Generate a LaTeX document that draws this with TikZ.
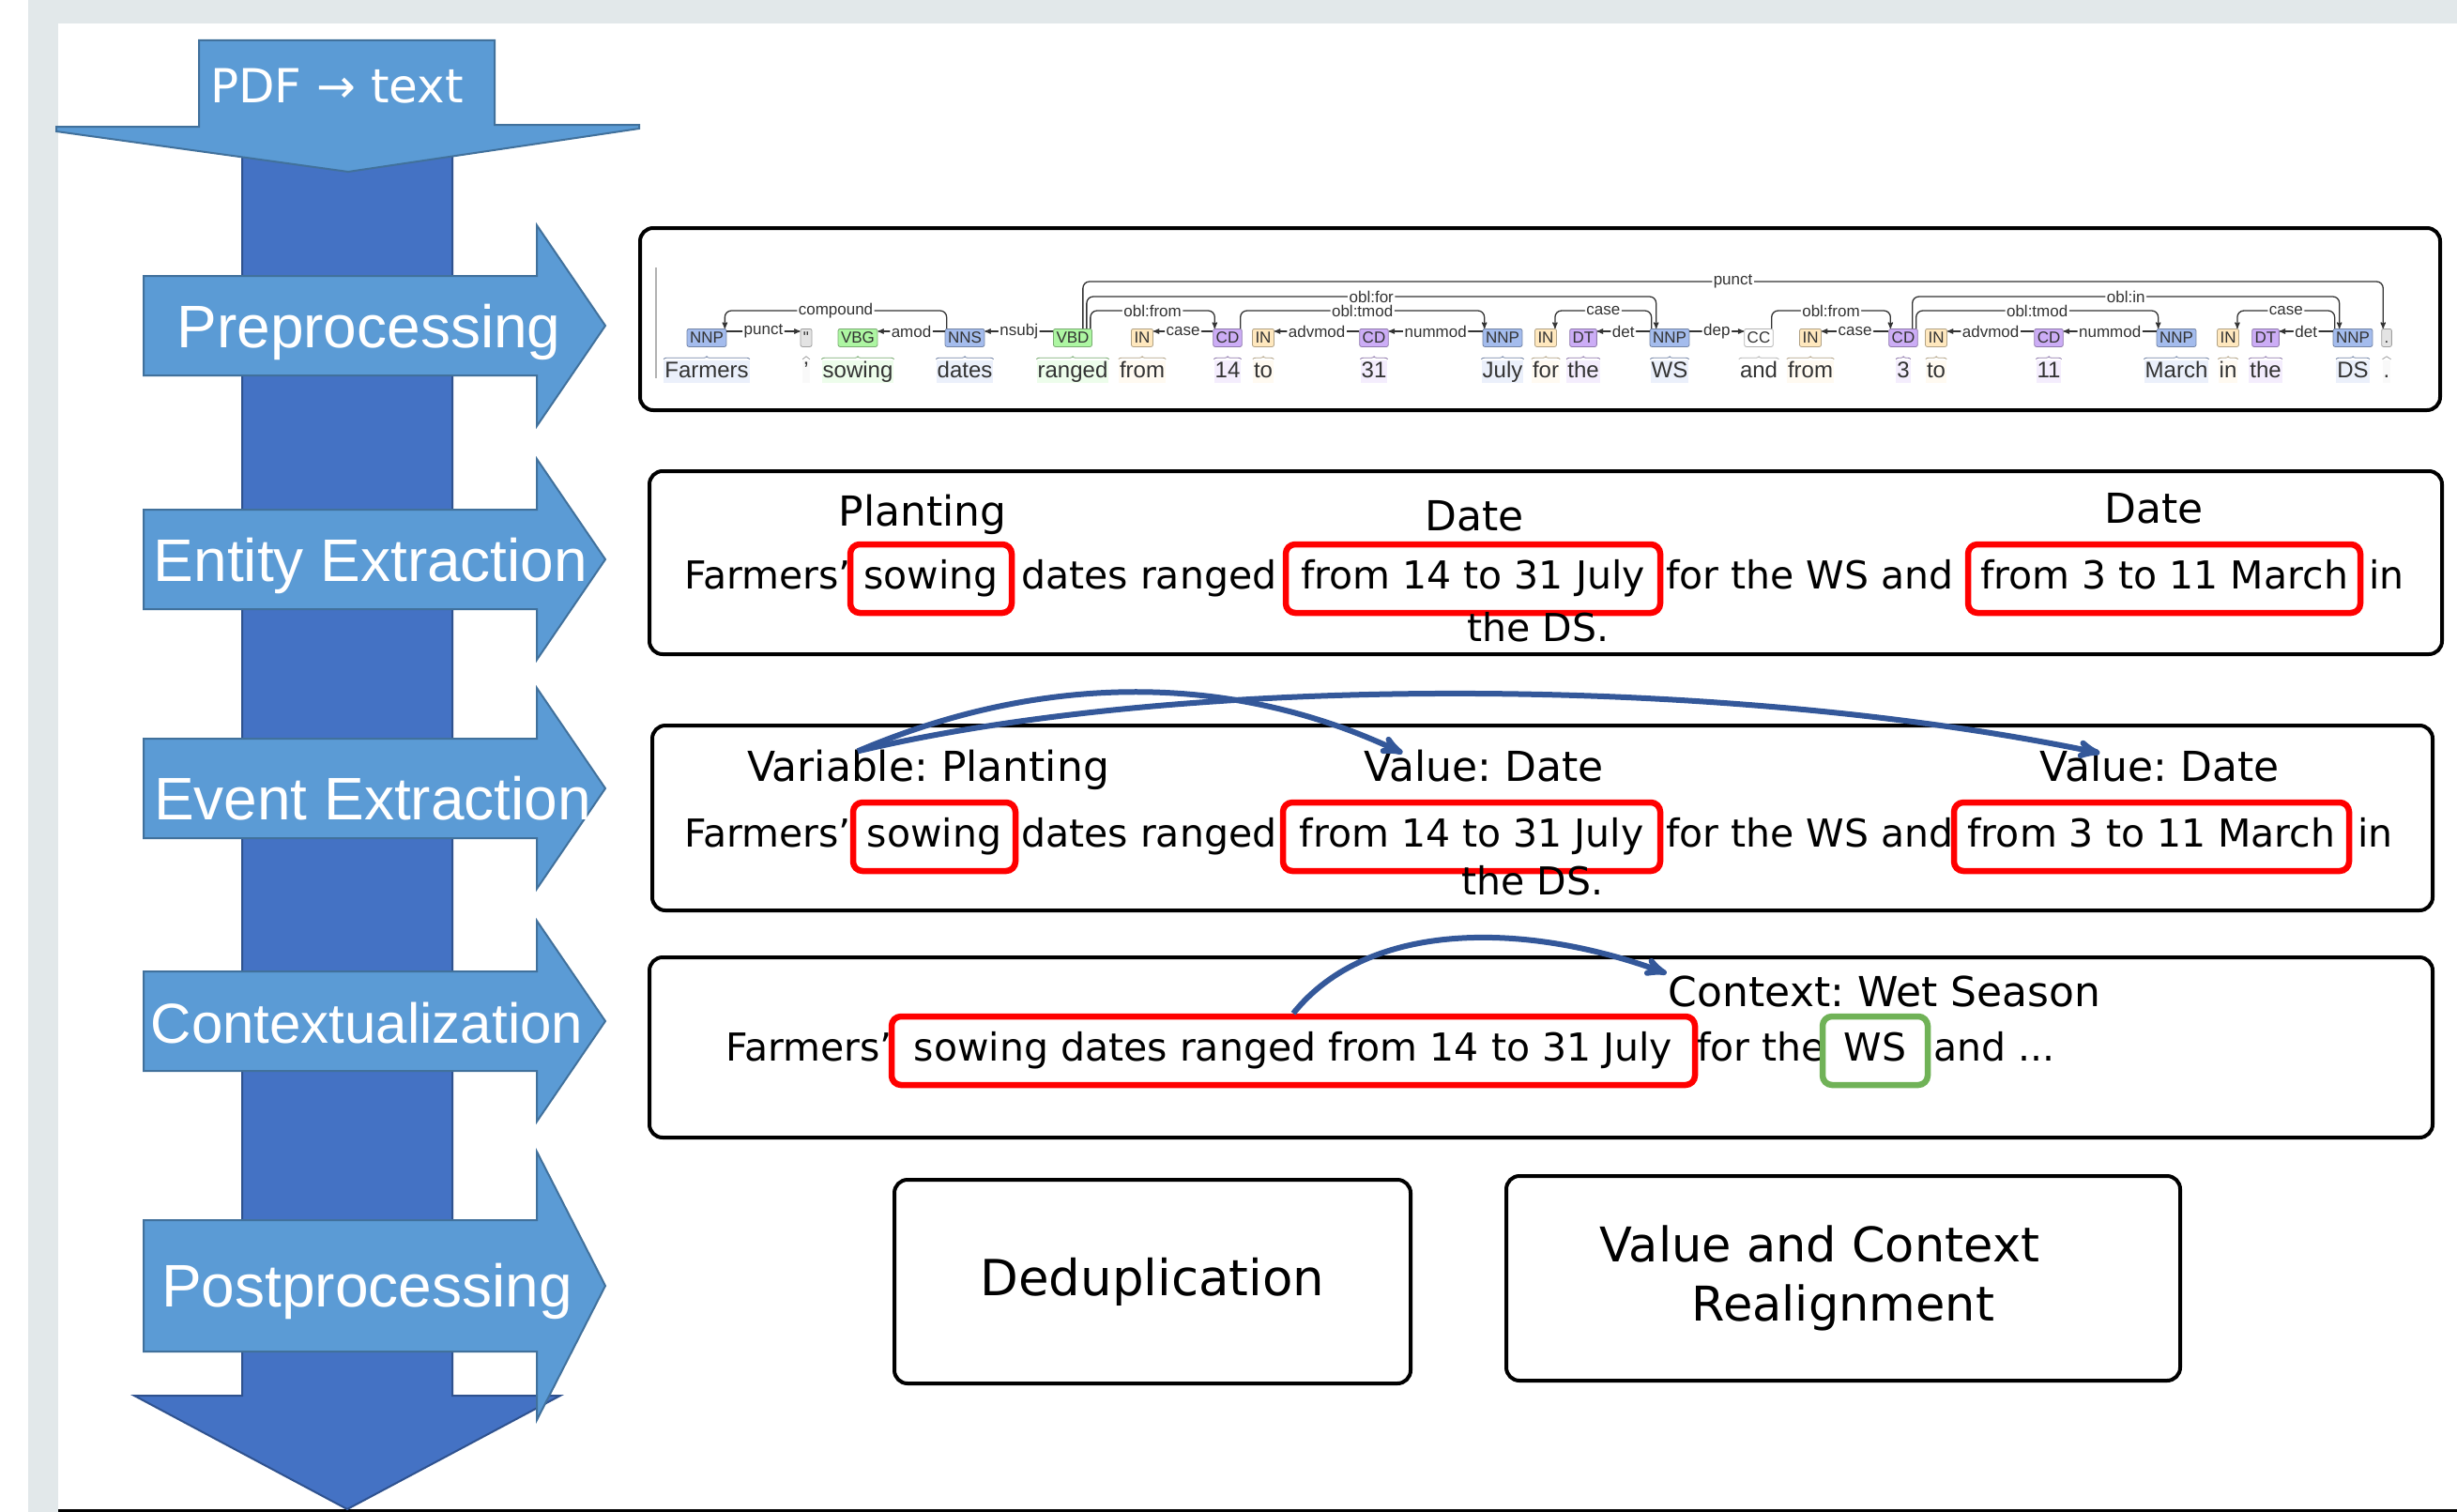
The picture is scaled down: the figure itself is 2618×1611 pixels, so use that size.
\documentclass[tikz,border=0pt]{standalone}
\usepackage{fontspec}
\setmainfont{DejaVu Sans}
\newfontfamily\arialfont{Liberation Sans}
\usetikzlibrary{positioning,arrows,decorations.pathreplacing}
\frenchspacing

\definecolor{lightarrow}{HTML}{5B9BD5}
\definecolor{lightedge}{HTML}{41719C}
\definecolor{darkarrow}{HTML}{4472C4}
\definecolor{darkedge}{HTML}{2F528F}
\definecolor{linkblue}{HTML}{34589A}
\definecolor{framegray}{HTML}{E2E8EA}
\definecolor{markred}{HTML}{FF0000}
\definecolor{markgreen}{HTML}{70B257}
\definecolor{inktext}{HTML}{333333}
\definecolor{nncol}{HTML}{A4BCED}
\definecolor{vbcol}{HTML}{ADF6A2}
\definecolor{incol}{HTML}{FFE8BE}
\definecolor{cdcol}{HTML}{CCADF6}
\definecolor{cccol}{HTML}{FFFFFF}
\definecolor{pucol}{HTML}{E3E3E3}

\tikzset{
>=stealth',
  bigarrow/.style={fill=darkarrow, draw=darkedge, line width=2pt},
  stagearrow/.style={fill=lightarrow, draw=lightedge, line width=2pt},
  stagelabel/.style={anchor=base, inner sep=0pt, text=white,
    font=\arialfont\fontsize{64}{70}\selectfont},
  panel/.style={draw=black, line width=4pt, rounded corners=14pt},
  sent/.style={anchor=base west, inner sep=0pt, font=\fontsize{41}{48}\selectfont},
  rolelabel/.style={anchor=base, inner sep=2pt, font=\fontsize{44}{50}\selectfont},
  redmark/.style={draw=markred, line width=6.5pt, rounded corners=10pt,
    anchor=base, inner xsep=0pt, inner ysep=17pt, text height=30pt,
    text depth=9pt, minimum width=#1, font=\fontsize{41}{48}\selectfont},
  greenmark/.style={redmark=#1, draw=markgreen},
  linkarrow/.style={draw=linkblue, line width=6pt, ->},
  % brat-like parse
  tok/.style={anchor=base, fill=#1!22, text=inktext, inner xsep=1pt,
    inner ysep=1pt, text height=17pt, text depth=5pt,
    font=\arialfont\fontsize{24}{28}\selectfont},
  postag/.style={fill=#1, draw=#1!70!black, line width=0.8pt,
    rounded corners=2pt, text=inktext, inner xsep=3pt, inner ysep=0pt,
    minimum height=19pt, text height=12pt, text depth=0pt,
    font=\arialfont\fontsize{17}{18}\selectfont},
  brc/.style={draw=#1!70!black, line width=0.8pt, decorate,
    decoration={brace, amplitude=3pt, raise=1pt}},
  deparc/.style={draw=inktext, line width=1.3pt, rounded corners=7pt, ->},
  rel/.style={fill=white, text=inktext, inner xsep=1.5pt, inner ysep=0pt,
    font=\arialfont\fontsize{17}{18}\selectfont},
}

\begin{document}
\begin{tikzpicture}[x=1pt, y=1pt]
  \useasboundingbox (0,0) rectangle (2618,-1611);
  \fill[white] (0,0) rectangle (2618,-1611);
  % screenshot frame
  \fill[framegray] (30,0) rectangle (2618,-25);
  \fill[framegray] (30,0) rectangle (62,-1611);
  \draw[line width=3pt] (62,-1609.5) -- (2618,-1609.5);

  % the long flow arrow and the input arrow on top of it
  \draw[bigarrow] (258,-130) -- (482,-130) -- (482,-1487) -- (597,-1487)
    -- (370,-1608) -- (143,-1487) -- (258,-1487) -- cycle;
  \draw[stagearrow] (212,-43) -- (527,-43) -- (527,-133) -- (681,-133)
    -- (681,-137) -- (371,-183) -- (60,-140) -- (60,-135) -- (212,-135) -- cycle;
  \node[stagelabel, font=\fontsize{50}{56}\selectfont] (pdf) at (359,-110) {PDF → text};

  %% stages
  \draw[stagearrow, shift={(0,-347)}] (153,53) -- (572,53) -- (572,107)
    -- (645,0) -- (572,-107) -- (572,-53) -- (153,-53) -- cycle;
  \draw[stagearrow, shift={(0,-596)}] (153,53) -- (572,53) -- (572,107)
    -- (645,0) -- (572,-107) -- (572,-53) -- (153,-53) -- cycle;
  \draw[stagearrow, shift={(0,-840)}] (153,53) -- (572,53) -- (572,107)
    -- (645,0) -- (572,-107) -- (572,-53) -- (153,-53) -- cycle;
  \draw[stagearrow, shift={(0,-1088)}] (153,53) -- (572,53) -- (572,107)
    -- (645,0) -- (572,-107) -- (572,-53) -- (153,-53) -- cycle;
  \draw[stagearrow, shift={(0,-1370)}] (153,70) -- (572,70) -- (572,143)
    -- (645,0) -- (572,-143) -- (572,-70) -- (153,-70) -- cycle;
  \node[stagelabel] (prep) at (393,-370) {Preprocessing};
  \node[stagelabel] (entity) at (395,-619) {Entity Extraction};
  \node[stagelabel] (event) at (397,-873) {Event Extraction};
  \node[stagelabel, font=\arialfont\fontsize{60}{66}\selectfont] (context) at (391,-1111) {Contextualization};
  \node[stagelabel] (post) at (391,-1392) {Postprocessing};

  % panels
  \node[panel, minimum width=1918pt, minimum height=194pt] (parsebox) at (1641,-340) {};
  \node[panel, minimum width=1910pt, minimum height=195pt] (entbox) at (1647,-599.5) {};
  \node[panel, minimum width=1897pt, minimum height=197pt] (evbox) at (1643.5,-871.5) {};
  \node[panel, minimum width=1900pt, minimum height=192pt] (ctxbox) at (1642,-1116) {};
  \node[panel, minimum width=550pt, minimum height=217pt,
    font=\fontsize{53}{60}\selectfont] (dedup) at (1228,-1365.5) {Deduplication};
  \node[panel, minimum width=718pt, minimum height=218pt, align=center,
    font=\fontsize{51}{63}\selectfont] (realign) at (1964,-1362) {Value and Context\hspace*{50pt}\\Realignment};

  % dependency parse
  \draw[black!30, line width=1.5pt] (699,-285) -- (699,-403);
  \node[tok=nncol] (wFarmers) at (753,-402) {Farmers};
  \node[postag=nncol, above=14pt of wFarmers] (pFarmers) {NNP};
  \draw[brc=nncol] (wFarmers.north west) -- (wFarmers.north east);
  \node[tok=pucol] (wQuote) at (859,-402) {’};
  \node[postag=pucol, above=14pt of wQuote] (pQuote) {"};
  \draw[brc=pucol] (wQuote.north west) -- (wQuote.north east);
  \node[tok=vbcol] (wSowing) at (914,-402) {sowing};
  \node[postag=vbcol, above=14pt of wSowing] (pSowing) {VBG};
  \draw[brc=vbcol] (wSowing.north west) -- (wSowing.north east);
  \node[tok=nncol] (wDates) at (1028,-402) {dates};
  \node[postag=nncol, above=14pt of wDates] (pDates) {NNS};
  \draw[brc=nncol] (wDates.north west) -- (wDates.north east);
  \node[tok=vbcol] (wRanged) at (1143,-402) {ranged};
  \node[postag=vbcol, above=14pt of wRanged] (pRanged) {VBD};
  \draw[brc=vbcol] (wRanged.north west) -- (wRanged.north east);
  \node[tok=incol] (wFrom) at (1217,-402) {from};
  \node[postag=incol, above=14pt of wFrom] (pFrom) {IN};
  \draw[brc=incol] (wFrom.north west) -- (wFrom.north east);
  \node[tok=cdcol] (wFourteen) at (1308,-402) {14};
  \node[postag=cdcol, above=14pt of wFourteen] (pFourteen) {CD};
  \draw[brc=cdcol] (wFourteen.north west) -- (wFourteen.north east);
  \node[tok=incol] (wTo) at (1346,-402) {to};
  \node[postag=incol, above=14pt of wTo] (pTo) {IN};
  \draw[brc=incol] (wTo.north west) -- (wTo.north east);
  \node[tok=cdcol] (wThirtyOne) at (1464,-402) {31};
  \node[postag=cdcol, above=14pt of wThirtyOne] (pThirtyOne) {CD};
  \draw[brc=cdcol] (wThirtyOne.north west) -- (wThirtyOne.north east);
  \node[tok=nncol] (wJuly) at (1601,-402) {July};
  \node[postag=nncol, above=14pt of wJuly] (pJuly) {NNP};
  \draw[brc=nncol] (wJuly.north west) -- (wJuly.north east);
  \node[tok=incol] (wFor) at (1647,-402) {for};
  \node[postag=incol, above=14pt of wFor] (pFor) {IN};
  \draw[brc=incol] (wFor.north west) -- (wFor.north east);
  \node[tok=cdcol] (wThe) at (1687,-402) {the};
  \node[postag=cdcol, above=14pt of wThe] (pThe) {DT};
  \draw[brc=cdcol] (wThe.north west) -- (wThe.north east);
  \node[tok=nncol] (wWS) at (1779,-402) {WS};
  \node[postag=nncol, above=14pt of wWS] (pWS) {NNP};
  \draw[brc=nncol] (wWS.north west) -- (wWS.north east);
  \node[tok=cccol] (wAnd) at (1874,-402) {and};
  \node[postag=cccol, above=14pt of wAnd] (pAnd) {CC};
  \draw[brc=cccol] (wAnd.north west) -- (wAnd.north east);
  \node[tok=incol] (wFromB) at (1929,-402) {from};
  \node[postag=incol, above=14pt of wFromB] (pFromB) {IN};
  \draw[brc=incol] (wFromB.north west) -- (wFromB.north east);
  \node[tok=cdcol] (wThree) at (2028,-402) {3};
  \node[postag=cdcol, above=14pt of wThree] (pThree) {CD};
  \draw[brc=cdcol] (wThree.north west) -- (wThree.north east);
  \node[tok=incol] (wToB) at (2063,-402) {to};
  \node[postag=incol, above=14pt of wToB] (pToB) {IN};
  \draw[brc=incol] (wToB.north west) -- (wToB.north east);
  \node[tok=cdcol] (wEleven) at (2183,-402) {11};
  \node[postag=cdcol, above=14pt of wEleven] (pEleven) {CD};
  \draw[brc=cdcol] (wEleven.north west) -- (wEleven.north east);
  \node[tok=nncol] (wMarch) at (2319,-402) {March};
  \node[postag=nncol, above=14pt of wMarch] (pMarch) {NNP};
  \draw[brc=nncol] (wMarch.north west) -- (wMarch.north east);
  \node[tok=incol] (wIn) at (2374,-402) {in};
  \node[postag=incol, above=14pt of wIn] (pIn) {IN};
  \draw[brc=incol] (wIn.north west) -- (wIn.north east);
  \node[tok=cdcol] (wTheB) at (2414,-402) {the};
  \node[postag=cdcol, above=14pt of wTheB] (pTheB) {DT};
  \draw[brc=cdcol] (wTheB.north west) -- (wTheB.north east);
  \node[tok=nncol] (wDS) at (2507,-402) {DS};
  \node[postag=nncol, above=14pt of wDS] (pDS) {NNP};
  \draw[brc=nncol] (wDS.north west) -- (wDS.north east);
  \node[tok=pucol] (wDot) at (2543,-402) {.};
  \node[postag=pucol, above=14pt of wDot] (pDot) {.};
  \draw[brc=pucol] (wDot.north west) -- (wDot.north east);

  %% arcs right above the tags
  \draw[deparc] ([yshift=-3pt]pFarmers.north east) -- node[rel]{punct} ([yshift=-3pt]pQuote.north west);
  \draw[deparc] ([yshift=-3pt]pDates.north west) -- node[rel]{amod} ([yshift=-3pt]pSowing.north east);
  \draw[deparc] ([yshift=-3pt]pRanged.north west) -- node[rel]{nsubj} ([yshift=-3pt]pDates.north east);
  \draw[deparc] ([yshift=-3pt]pFourteen.north west) -- node[rel]{case} ([yshift=-3pt]pFrom.north east);
  \draw[deparc] ([yshift=-3pt]pThirtyOne.north west) -- node[rel]{advmod} ([yshift=-3pt]pTo.north east);
  \draw[deparc] ([yshift=-3pt]pJuly.north west) -- node[rel]{nummod} ([yshift=-3pt]pThirtyOne.north east);
  \draw[deparc] ([yshift=-3pt]pWS.north west) -- node[rel]{det} ([yshift=-3pt]pThe.north east);
  \draw[deparc] ([yshift=-3pt]pWS.north east) -- node[rel]{dep} ([yshift=-3pt]pAnd.north west);
  \draw[deparc] ([yshift=-3pt]pThree.north west) -- node[rel]{case} ([yshift=-3pt]pFromB.north east);
  \draw[deparc] ([yshift=-3pt]pEleven.north west) -- node[rel]{advmod} ([yshift=-3pt]pToB.north east);
  \draw[deparc] ([yshift=-3pt]pMarch.north west) -- node[rel]{nummod} ([yshift=-3pt]pEleven.north east);
  \draw[deparc] ([yshift=-3pt]pDS.north west) -- node[rel]{det} ([yshift=-3pt]pTheB.north east);
  %% higher arcs
  \draw[deparc] ([xshift=2pt]pDates.north west) -- ++(0,19) -| node[rel, pos=0.25]{compound} ([xshift=-2pt]pFarmers.north east);
  \draw[deparc] ([xshift=-2pt]pRanged.north east) -- ++(0,19) -| node[rel, pos=0.25]{obl:from} ([xshift=2pt]pFourteen.north west);
  \draw[deparc] ([xshift=-2pt]pFourteen.north east) -- ++(0,19) -| node[rel, pos=0.25]{obl:tmod} ([xshift=2pt]pJuly.north west);
  \draw[deparc] ([xshift=2pt]pWS.north west) -- ++(0,19) -| node[rel, pos=0.25]{case} ([xshift=-2pt]pFor.north east);
  \draw[deparc] ([xshift=-2pt]pAnd.north east) -- ++(0,19) -| node[rel, pos=0.25]{obl:from} ([xshift=2pt]pThree.north west);
  \draw[deparc] ([xshift=-2pt]pThree.north east) -- ++(0,19) -| node[rel, pos=0.25]{obl:tmod} ([xshift=2pt]pMarch.north west);
  \draw[deparc] ([xshift=2pt]pDS.north west) -- ++(0,19) -| node[rel, pos=0.25]{case} ([xshift=-2pt]pIn.north east);
  \draw[deparc] ([xshift=-6pt]pRanged.north east) -- ++(0,34) -| node[rel, pos=0.25]{obl:for} ([xshift=7pt]pWS.north west);
  \draw[deparc] ([xshift=-6pt]pThree.north east) -- ++(0,34) -| node[rel, pos=0.25]{obl:in} ([xshift=7pt]pDS.north west);
  \draw[deparc] ([xshift=-10pt]pRanged.north east) -- ++(0,50) -| node[rel, pos=0.25]{punct} ([xshift=2pt]pDot.north west);

  % entity extraction
  \node[sent] (entA) at (729,-627) {Farmers'};
  \node[redmark=172pt] (entSow) at (992,-627) {sowing};
  \node[sent] (entB) at (1088,-627) {dates ranged};
  \node[redmark=399pt] (entJuly) at (1569.5,-627) {from 14 to 31 July};
  \node[sent] (entC) at (1775,-627) {for the WS and};
  \node[redmark=418pt] (entMarch) at (2306,-627) {from 3 to 11 March};
  \node[sent] (entD) at (2524,-627) {in};
  \node[sent, anchor=base] (entE) at (1639,-683) {the DS.};
  \node[rolelabel] (entPlant) at (983,-560) {Planting};
  \node[rolelabel] (entDate) at (1571,-565) {Date};
  \node[rolelabel] (entDateB) at (2295,-557) {Date};

  % event extraction
  \node[sent] (evA) at (729,-902) {Farmers'};
  \node[redmark=173pt] (evSow) at (995.5,-902) {sowing};
  \node[sent] (evB) at (1088,-902) {dates ranged};
  \node[redmark=402pt] (evJuly) at (1568,-902) {from 14 to 31 July};
  \node[sent] (evC) at (1775,-902) {for the WS and};
  \node[redmark=421pt] (evMarch) at (2292.5,-902) {from 3 to 11 March};
  \node[sent] (evD) at (2512,-902) {in};
  \node[sent, anchor=base] (evE) at (1633,-953) {the DS.};
  \node[rolelabel] (evVar) at (989,-832) {Variable: Planting};
  \node[rolelabel] (evVal) at (1581,-832) {Value: Date};
  \node[rolelabel] (evValB) at (2301,-832) {Value: Date};
  \draw[linkarrow] ([xshift=120pt, yshift=-4pt]evVar.north west)
    .. controls +(200,85) and +(-180,85) .. ([xshift=43pt, yshift=-6pt]evVal.north west);
  \draw[linkarrow] ([xshift=120pt, yshift=-4pt]evVar.north west)
    .. controls +(350,83) and +(-400,83) .. ([xshift=66pt, yshift=-6pt]evValB.north west);

  % contextualization
  \node[sent] (ctxA) at (773,-1130) {Farmers'};
  \node[redmark=856pt] (ctxMark) at (1378,-1130) {sowing dates ranged from 14 to 31 July};
  \node[sent] (ctxB) at (1808,-1130) {for the};
  \node[greenmark=112pt] (ctxWS) at (1998,-1130) {WS};
  \node[sent] (ctxC) at (2060,-1130) {and ...};
  \node[rolelabel] (ctxLbl) at (2008,-1072) {Context: Wet Season};
  \draw[linkarrow] (ctxMark.north)
    .. controls +(80,100) and +(-150,55) .. (ctxLbl.north west);
\end{tikzpicture}
\end{document}
